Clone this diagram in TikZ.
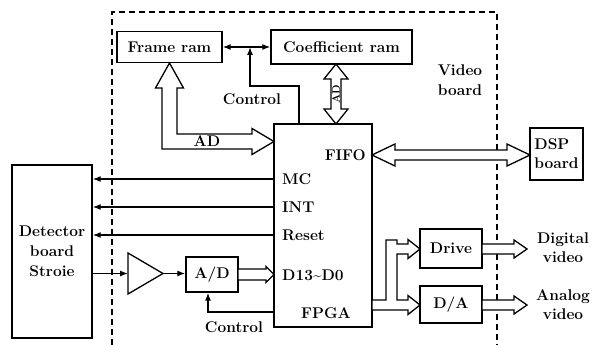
\documentclass[tikz,border=0pt]{standalone}
\usetikzlibrary{arrows.meta}
\begin{document}
\begin{tikzpicture}[x=1pt,y=-1pt,
  lbl/.style={font=\fontsize{15.5}{17}\selectfont\bfseries, inner sep=0pt},
  box/.style={draw, line width=1.4pt, inner sep=0pt, lbl},
  sig/.style={line width=1.2pt, -{Latex[length=8pt,width=6pt]}},
  dsig/.style={line width=1.2pt, {Latex[length=8pt,width=6pt]}-{Latex[length=8pt,width=6pt]}},
  hollow/.style={draw, line width=1.3pt, fill=white, line join=miter},
  border/.style={line width=1.5pt, dash pattern=on 6pt off 4pt}]
\useasboundingbox (0,0) rectangle (592,345);
% video board border
\draw[border] (112,345) -- (112,12) -- (497,12) -- (497,345);
% boxes
\node[box, minimum width=105pt, minimum height=31pt] (frame) at (169.5,47) {Frame ram};
\node[box, minimum width=141pt, minimum height=34pt] (coef) at (341.5,47) {Coefficient ram};
\node[box, minimum width=98pt, minimum height=203pt] (fpga) at (323,225.5) {};
\node[box, minimum width=53pt, minimum height=52pt, align=left] (dsp) at (556.5,154) {DSP\\[2pt]board};
\node[box, minimum width=80pt, minimum height=173pt, align=center] (det) at (52,251.5) {Detector\\[3pt]board\\[3pt]Stroie};
\node[box, minimum width=52pt, minimum height=35pt] (ad) at (212,274.5) {A/D};
\node[box, minimum width=62pt, minimum height=39pt] (drive) at (451,248.5) {Drive};
\node[box, minimum width=62pt, minimum height=37pt] (da) at (451,304.5) {D/A};
% amplifier
\draw[line width=1.3pt] (128,253) -- (163,273.5) -- (128,294) -- cycle;
\coordinate (ampin) at (128,273.5);
\coordinate (ampout) at (163,273.5);
% labels in FPGA
\node[lbl, anchor=east] (fifo) at (366,155) {FIFO};
\node[lbl, anchor=west] (mc) at (282,179) {MC};
\node[lbl, anchor=west] (int) at (282,207) {INT};
\node[lbl, anchor=west] (reset) at (282,235) {Reset};
\node[lbl, anchor=west] (dd) at (282,275) {D13\char`~D0};
\node[lbl] (fpgalbl) at (326,313) {FPGA};
% other texts
\node[lbl, align=center] (vb) at (460,80) {Video\\[3pt]board};
\node[lbl, align=center] (dv) at (563,248) {Digital\\[2pt]video};
\node[lbl, align=center] (av) at (563,305) {Analog\\[2pt]video};
\node[lbl] (ctltext) at (252,99) {Control};
\node[lbl] (ctltext2) at (234,327) {Control};
% ram link and control
\draw[dsig] (frame.east) -- (coef.west);
\coordinate (ctlA) at (250,47);
\coordinate (ctlB) at (299,86);
\draw[sig] (fpga.north -| ctlB) |- (ctlA |- ctlB) -- (ctlA);
% signals to detector
\draw[sig] (fpga.west |- mc) -- (det.east |- mc);
\draw[sig] (fpga.west |- int) -- (det.east |- int);
\draw[sig] (fpga.west |- reset) -- (det.east |- reset);
\draw[sig] (det.east |- ampin) -- (ampin);
\draw[sig] (ampout) -- (ad.west |- ampout);
\coordinate (ctlC) at (208,312);
\draw[sig] (fpga.west |- ctlC) -| (ad.south -| ctlC);
% hollow arrows
\draw[hollow] (169.5,63) -- (183.5,88) -- (177,88) -- (177,134) -- (252,134) -- (252,128.5)
  -- (274,141.5) -- (252,154.5) -- (252,149) -- (162,149) -- (162,88) -- (155.5,88) -- cycle;
\node[lbl] (adh) at (207,141.5) {AD};
\draw[hollow] (336,64) -- (348,79) -- (341,79) -- (341,109) -- (348,109) -- (336,124)
  -- (324,109) -- (331,109) -- (331,79) -- (324,79) -- cycle;
\node[lbl, rotate=90, font=\fontsize{11}{12}\selectfont\bfseries] (adv) at (336,94) {AD};
\draw[hollow] (372,155) -- (395,144) -- (395,150) -- (507,150) -- (507,144) -- (530,155)
  -- (507,166) -- (507,160) -- (395,160) -- (395,166) -- cycle;
\draw[hollow] (238,269) -- (266,269) -- (266,266.5) -- (274,274.5) -- (266,282.5) -- (266,280) -- (238,280) -- cycle;
\draw[hollow] (372,300) -- (386,300) -- (386,240) -- (397,240) -- (397,244) -- (408,244)
  -- (408,239.5) -- (420,249) -- (408,258.5) -- (408,254) -- (397,254) -- (397,300)
  -- (408,300) -- (408,295.5) -- (420,305) -- (408,314.5) -- (408,310) -- (372,310) -- cycle;
\draw[hollow] (482,244) -- (514,244) -- (514,240) -- (527,249) -- (514,258) -- (514,254) -- (482,254) -- cycle;
\draw[hollow] (482,300) -- (514,300) -- (514,296) -- (527,305) -- (514,314) -- (514,310) -- (482,310) -- cycle;
\end{tikzpicture}
\end{document}
